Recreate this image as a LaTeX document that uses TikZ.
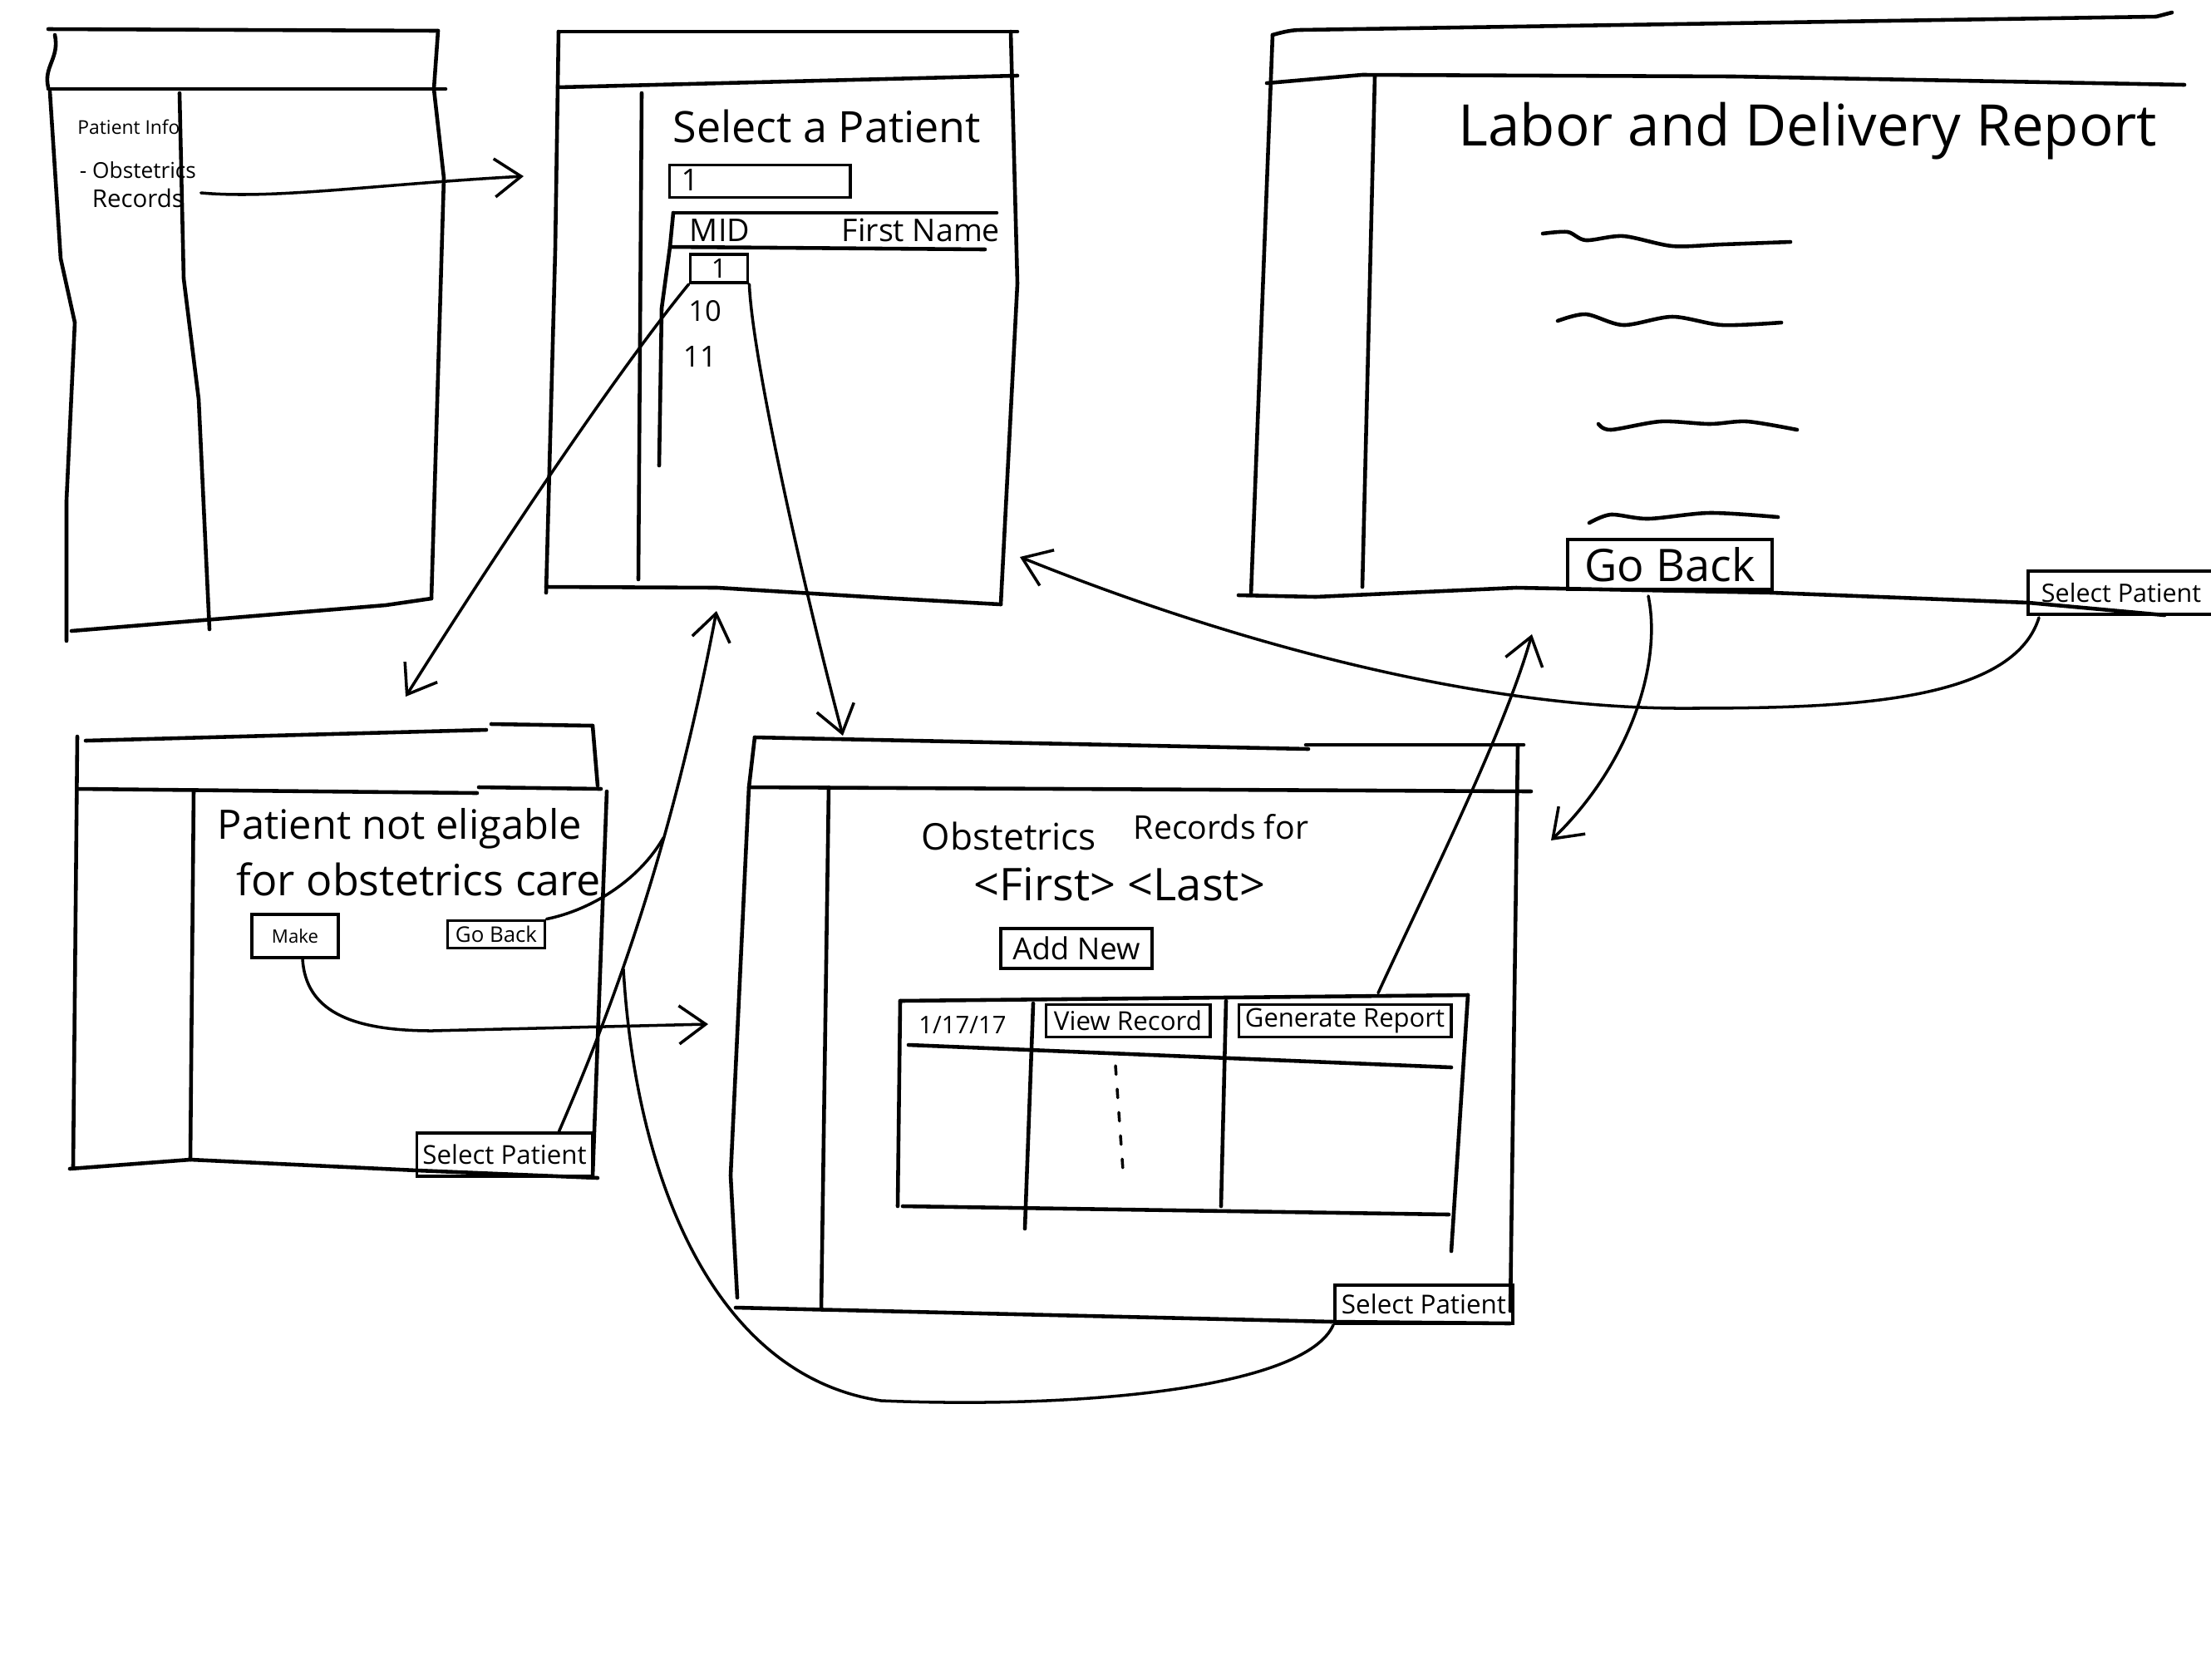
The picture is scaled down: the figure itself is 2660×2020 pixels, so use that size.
\documentclass[tikz,border=0pt]{standalone}
\usepackage{fontspec}
\setmainfont{Open Sans}
\usepackage{graphicx}
\usetikzlibrary{arrows.meta,calc}
\newcommand{\fitw}[2]{\resizebox{#1}{!}{#2}}
\newcommand{\fith}[2]{\resizebox{!}{#1}{#2}}
\begin{document}
\begin{tikzpicture}[x=0.01cm,y=-0.01cm,
  ln/.style={line width=1.3pt,line cap=round,line join=round},
  conn/.style={line width=1pt,line cap=round,-{Straight Barb[length=3.2mm,width=4.6mm,line width=1pt]}},
  link/.style={line width=1pt,line cap=round},
  btn/.style={draw,line width=1.1pt,inner sep=0pt,rectangle},
  txt/.style={inner sep=0pt}]
\useasboundingbox (0,0) rectangle (2660,2020);
\fill[white] (0,0) rectangle (2660,2020);
\clip (0,0) rectangle (2660,2020);

% ---------------- Screen 1: patient info menu
\draw[ln] (58,35) -- (527,37);
\draw[ln] (66,42) .. controls (72,70) and (52,80) .. (58,105);
\draw[ln] (58,107) -- (536,107);
\draw[ln] (60,110) -- (73,311) -- (90,388) -- (80,602) -- (80,771);
\draw[ln] (216,112) -- (221,335) -- (239,480) -- (252,757);
\draw[ln] (527,37) -- (522,107) -- (534,214) -- (519,720);
\draw[ln] (86,759) -- (464,728) -- (519,720);
\node[txt] (s1info) at (155,153) {\fitw{12.3mm}{Patient Info}};
\node[txt] (s1obs) at (166,205) {\fitw{14mm}{- Obstetrics}};
\node[txt] (s1rec) at (166,238) {\fitw{11mm}{Records}};

% ---------------- Screen 2: select a patient
\draw[ln] (672,38) -- (1224,38);
\draw[ln] (672,38) -- (668,300) -- (657,713);
\draw[ln] (671,105) -- (1224,91);
\draw[ln] (1216,38) -- (1224,341) -- (1204,727);
\draw[ln] (657,706) -- (863,707) -- (1060,719) -- (1204,727);
\draw[ln] (772,112) -- (768,697);
\node[txt] (s2title) at (995,152) {\fitw{37mm}{Select a Patient}};
\node[btn,minimum width=21.7mm,minimum height=3.9mm] (search) at (914,218) {};
\node[txt] (searchtxt) at (830,216) {\fith{2.6mm}{1}};
\draw[ln] (810,256) -- (1199,256);
\draw[ln] (806,297) -- (1185,300);
\draw[ln] (810,256) -- (806,297) -- (796,371) -- (793,560);
\node[txt] (mid) at (866,277) {\fitw{7.2mm}{MID}};
\node[txt] (fname) at (1108,277) {\fitw{19mm}{First Name}};
\node[btn,minimum width=6.9mm,minimum height=3.4mm] (cell) at (865,323) {\fith{2.3mm}{1}};
\node[txt] (r10) at (848,374) {\fith{2.5mm}{10}};
\node[txt] (r11) at (842,429) {\fith{2.5mm}{11}};

% ---------------- Screen 3: labor and delivery report
\draw[ln] (1531,42) .. controls (1545,38) and (1555,36) .. (1565,36) -- (2594,20) -- (2613,15);
\draw[ln] (1531,42) -- (1505,716);
\draw[ln] (1524,100) -- (1639,90) -- (2087,92) -- (2628,102);
\draw[ln] (1654,92) -- (1639,706);
\draw[ln] (1490,716) -- (1583,718) -- (1824,707) -- (2132,713) -- (2440,725) -- (2604,740);
\node[txt] (s3title) at (2175,158) {\fitw{84mm}{Labor and Delivery Report}};
\draw[ln] plot[smooth] coordinates {(1856,281) (1886,279) (1908,289) (1953,284) (2012,296) (2072,294) (2154,291)};
\draw[ln] plot[smooth] coordinates {(1874,386) (1908,378) (1953,391) (2012,381) (2072,391) (2143,388)};
\draw[ln] plot[smooth] coordinates {(1923,510) (1938,517) (1998,507) (2057,510) (2102,507) (2162,517)};
\draw[ln] plot[smooth] coordinates {(1912,629) (1938,619) (1983,624) (2057,617) (2139,622)};
\node[btn,minimum width=24.6mm,minimum height=6.0mm] (s3back) at (2009,679) {\fitw{20.5mm}{Go Back}};
\node[btn,minimum width=24mm,minimum height=5.2mm] (s3sel) at (2560,713) {};
\node[txt] (s3seltxt) at (2552,713) {\fitw{19.2mm}{Select Patient}};

% ---------------- Screen 4: not eligible
\draw[ln] (103,891) -- (585,878);
\draw[ln] (591,871) -- (713,873);
\draw[ln] (93,886) -- (88,1404);
\draw[ln] (713,873) -- (719,945);
\draw[ln] (730,952) -- (713,1415);
\draw[ln] (93,949) -- (574,954);
\draw[ln] (576,947) -- (723,949);
\draw[ln] (233,951) -- (229,1395);
\draw[ln] (84,1406) -- (229,1395) -- (502,1408) -- (719,1417);
\node[txt] (s4l1) at (481,997) {\fitw{43.8mm}{Patient not eligable}};
\node[txt] (s4l2) at (504,1058) {\fitw{43.8mm}{for obstetrics care}};
\node[btn,minimum width=10.4mm,minimum height=5.2mm] (s4make) at (355,1126) {\fitw{5.6mm}{Make}};
\node[btn,minimum width=11.7mm,minimum height=3.3mm] (s4back) at (597,1124) {\fitw{9.8mm}{Go Back}};
\node[btn,minimum width=21.1mm,minimum height=5.2mm] (s4sel) at (607,1389) {\fitw{19.7mm}{Select Patient}};

% ---------------- Screen 5: obstetrics records
\draw[ln] (908,887) -- (1574,901);
\draw[ln] (1571,896) -- (1833,896);
\draw[ln] (908,887) -- (901,947) -- (879,1414) -- (887,1561);
\draw[ln] (901,947) -- (1842,952);
\draw[ln] (1826,896) -- (1817,1577);
\draw[ln] (997,947) -- (988,1575);
\draw[ln] (885,1573) -- (1603,1590) -- (1817,1592);
\node[txt] (s5t1) at (1214,1006) {\fitw{21mm}{Obstetrics}};
\node[txt] (s5t2) at (1469,995) {\fitw{21mm}{Records for}};
\node[txt] (s5t3) at (1347,1064) {\fitw{35mm}{\textless First\textgreater\ \textless Last\textgreater}};
\node[btn,minimum width=18.2mm,minimum height=4.8mm] (s5add) at (1295,1141) {\fitw{15.3mm}{Add New}};
\draw[ln] (1083,1204) -- (1766,1197);
\draw[ln] (1083,1204) -- (1080,1451);
\draw[ln] (1086,1451) -- (1743,1461);
\draw[ln] (1766,1197) -- (1746,1505);
\draw[ln] (1093,1257) -- (1746,1284);
\draw[ln] (1243,1207) -- (1233,1478);
\draw[ln] (1475,1204) -- (1469,1451);
\draw[line width=1pt,line cap=round,dash pattern=on 3pt off 5pt] (1342,1282) -- (1351,1408);
\node[txt] (s5date) at (1158,1233) {\fitw{10.5mm}{1/17/17}};
\node[btn,minimum width=19.7mm,minimum height=3.9mm] (s5view) at (1357,1228) {\fitw{17.8mm}{View Record}};
\node[btn,minimum width=25.5mm,minimum height=3.9mm] (s5gen) at (1618,1228) {\fitw{24mm}{Generate Report}};
\node[btn,minimum width=21.4mm,minimum height=4.6mm] (s5sel) at (1713,1569) {\fitw{19.8mm}{Select Patient}};

% ---------------- connectors
\coordinate (a1e) at (630,212);
\coordinate (a2e) at (488,838);
\coordinate (a3e) at (1014,885);
\coordinate (a4e) at (862,735);
\coordinate (j1) at (798,1008);
\coordinate (j2) at (750,1166);
\coordinate (a6e) at (852,1232);
\coordinate (a8e) at (1227,670);
\coordinate (a9e) at (1866,1011);
\coordinate (a10e) at (1843,763);

\draw[conn] ($(s1rec.east)+(20,-6)$) .. controls (330,240) and (450,222) .. (a1e);
\draw[conn] (cell.south west) .. controls (740,450) and (600,660) .. (a2e);
\draw[conn] (cell.south east) .. controls (905,430) and (965,700) .. (a3e);
\draw[conn] ($(s4sel.north east)+(-42,0)$) .. controls (738,1210) and (808,1020) .. (a4e);
\draw[link] (s4back.north east) .. controls (710,1095) and (768,1060) .. (j1);
\draw[conn] ($(s4make.south)+(9,0)$) .. controls (368,1215) and (420,1240) .. (520,1240) -- (a6e);
\draw[link] (s5sel.south west) .. controls (1570,1670) and (1300,1695) .. (1060,1685) .. controls (860,1655) and (765,1420) .. (j2);
\draw[conn] ($(s3sel.south west)+(15,2)$) .. controls (2420,850) and (2200,852) .. (2017,852) .. controls (1750,850) and (1450,760) .. (a8e);
\draw[conn] ($(s3back.south)+(-26,6)$) .. controls (2000,800) and (1960,920) .. (a9e);
\draw[conn] ($(s5gen.north)+(40,-12)$) .. controls (1720,1060) and (1810,880) .. (a10e);
\end{tikzpicture}
\end{document}
